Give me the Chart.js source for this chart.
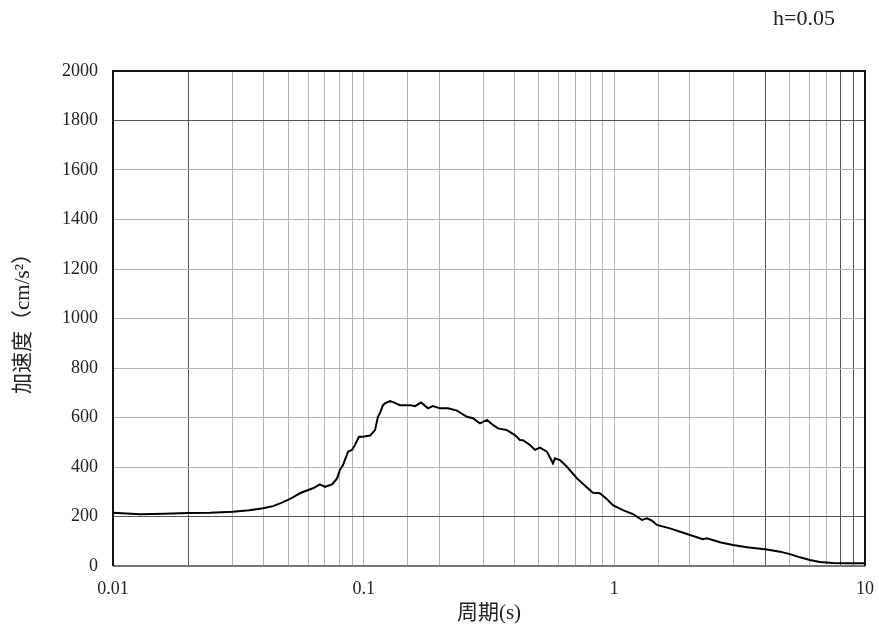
<!DOCTYPE html>
<html>
<head>
<meta charset="utf-8">
<script src="https://cdn.jsdelivr.net/npm/chart.js@4"></script>
<style>
html,body{margin:0;padding:0;background:#fff;}
#wrap{width:879px;height:635px;}
</style>
</head>
<body>
<div id="wrap"><canvas id="c" width="879" height="635"></canvas></div>
<script>
// ---- data ----
const periods = [0.01,0.0128,0.016,0.02,0.0244,0.03,0.035,0.0397,0.0435,0.0472,0.0499,0.0522,0.0557,0.06,0.0628,0.0669,0.0701,0.0748,0.0783,0.0804,0.0827,0.0866,0.0898,0.0923,0.0958,0.0994,0.106,0.111,0.114,0.1161,0.1194,0.1216,0.1273,0.1297,0.1358,0.1396,0.1531,0.1603,0.1694,0.1805,0.189,0.2015,0.2169,0.2356,0.2582,0.2729,0.2911,0.3104,0.328,0.3434,0.3729,0.4013,0.4203,0.4321,0.4607,0.4824,0.505,0.5385,0.569,0.5796,0.6067,0.6471,0.7095,0.7777,0.8216,0.8764,0.9344,0.9872,1.082,1.186,1.289,1.349,1.413,1.479,1.667,1.949,2.256,2.341,2.638,2.972,3.381,4.062,4.577,5.017,5.499,6.029,6.609,7.447,8.47,10];
const accel = [215,209,211,214,215,219,225,233,242,256,267,277,294,307,314,330,320,330,354,388,408,462,469,489,522,522,527,549,603,617,650,657,666,664,655,650,650,646,661,637,646,637,637,628,603,597,576,590,570,556,549,529,509,508,489,469,478,462,415,435,428,401,354,317,296,294,270,246,226,210,186,193,183,166,152,129,108,112,96,85,76,67,58,48,35,24,16,12,11,11];
const xTickValues = [0.01, 0.1, 1, 10];
const xTickLabels = ['0.01', '0.1', '1', '10'];
const yTickLabels = ['0','200','400','600','800','1000','1200','1400','1600','1800','2000'];
const dampingLabel = 'h=0.05';
const xTitle = '周期(s)';
const yTitle = '加速度（cm/s²）';

const darkX = [0.02, 4, 8, 9];
const darkY = [200, 1800];
const near = (a, b) => Math.abs(a - b) / b < 1e-6;

const serif = "'Liberation Serif', 'DejaVu Serif', 'Noto Sans CJK SC', serif";

const frame = {
  id: 'frame',
  afterDraw(chart) {
    const {ctx, chartArea: a} = chart;
    ctx.save();
    ctx.lineWidth = 2;
    ctx.strokeStyle = '#777';
    ctx.beginPath(); ctx.moveTo(a.left, a.bottom); ctx.lineTo(a.right, a.bottom); ctx.stroke();
    ctx.strokeStyle = '#111';
    ctx.beginPath();
    ctx.moveTo(a.left, a.bottom); ctx.lineTo(a.left, a.top); ctx.lineTo(a.right, a.top); ctx.lineTo(a.right, a.bottom);
    ctx.stroke();
    ctx.fillStyle = '#222';
    ctx.font = "22px " + serif;
    ctx.textAlign = 'right';
    ctx.textBaseline = 'middle';
    ctx.fillText(dampingLabel, a.right - 30, 19);
    ctx.restore();
  }
};

new Chart(document.getElementById('c'), {
  type: 'line',
  data: {
    datasets: [{
      data: periods.map((p, i) => ({x: p, y: accel[i]})),
      borderColor: '#000',
      borderWidth: 2,
      pointRadius: 0,
      tension: 0,
      fill: false
    }]
  },
  options: {
    responsive: false,
    animation: false,
    layout: {padding: {top: 71, right: 14, left: 0, bottom: 0}},
    plugins: {legend: {display: false}, tooltip: {enabled: false}},
    scales: {
      x: {
        type: 'logarithmic',
        min: 0.01, max: 10,
        afterFit(s) { s.height = 69; s.paddingRight = 0; s.paddingLeft = 0; },
        border: {display: false},
        grid: {
          drawTicks: false,
          lineWidth: 1,
          color: ctx => (ctx.tick && darkX.some(d => near(ctx.tick.value, d))) ? '#555' : '#b4b4b4'
        },
        ticks: {
          autoSkip: false, maxRotation: 0, padding: 12,
          color: '#222',
          font: {family: serif, size: 18},
          callback: (v) => {
            const i = xTickValues.findIndex(t => near(v, t));
            return i >= 0 ? xTickLabels[i] : '';
          }
        },
        title: {
          display: true, text: xTitle, color: '#222',
          font: {family: serif, size: 21},
          padding: {top: 0, bottom: 9}
        }
      },
      y: {
        min: 0, max: 2000,
        afterFit(s) { s.width = 113; s.paddingTop = 0; s.paddingBottom = 0; },
        border: {display: false},
        grid: {
          drawTicks: false,
          lineWidth: 1,
          color: ctx => (ctx.tick && darkY.includes(ctx.tick.value)) ? '#555' : '#b4b4b4'
        },
        ticks: {
          stepSize: 200, padding: 15, color: '#222',
          font: {family: serif, size: 18},
          callback: (v) => yTickLabels[Math.round(v / 200)]
        },
        title: {
          display: true, text: yTitle, color: '#222',
          font: {family: serif, size: 21},
          padding: {top: 11, bottom: 0}
        }
      }
    }
  },
  plugins: [frame]
});
</script>
</body>
</html>
